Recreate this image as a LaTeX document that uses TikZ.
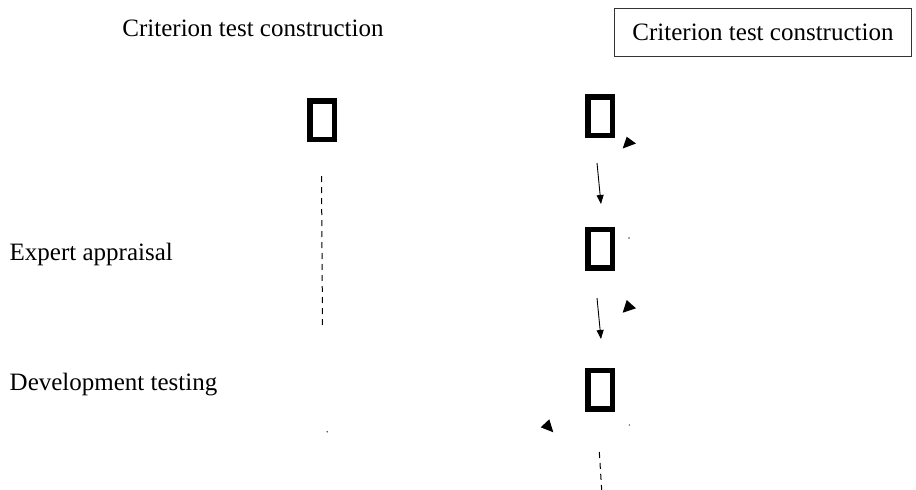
\documentclass[tikz,border=0pt]{standalone}
\usepackage{fontspec}
\setmainfont{Liberation Serif}
\usetikzlibrary{arrows.meta}
\begin{document}
\begin{tikzpicture}[x=1pt, y=-1pt,
  every node/.style={font=\fontsize{25}{30}\selectfont},
  label/.style={anchor=base west, inner sep=0pt},
  stage/.style={draw, line width=5.5pt, minimum width=24.5pt, minimum height=38.5pt, inner sep=0pt},
  flow/.style={line width=0.9pt, -{Triangle[length=9pt, width=7pt]}},
  guide/.style={line width=1pt, dash pattern=on 6pt off 5pt},
  tip/.style={fill=black},
  speck/.style={fill=black!70}]
  % canvas
  \useasboundingbox (0,0) rectangle (916,490);

  % headings
  \node[anchor=base, inner sep=0pt] (head) at (253,36.7) {Criterion test construction};
  \node[draw=black!80, line width=0.9pt, anchor=north west, minimum width=297pt, minimum height=48pt,
        inner sep=0pt] (headbox) at (614,8) {Criterion test construction};

  % side labels
  \node[label] (expert) at (9.5,260) {Expert appraisal};
  \node[label] (devel) at (9.5,390.5) {Development testing};

  % stage boxes
  \node[stage] (s0) at (322,120) {};
  \node[stage] (s1) at (600,116) {};
  \node[stage] (s2) at (600,248.5) {};
  \node[stage] (s3) at (600.3,389.5) {};

  % flow arrows between the stages
  \coordinate (f1a) at (597,163);
  \coordinate (f1b) at (601,204);
  \coordinate (f2a) at (597,298);
  \coordinate (f2b) at (601,339);
  \draw[flow] (f1a) -- (f1b);
  \draw[flow] (f2a) -- (f2b);

  % loose arrow tips
  \fill[tip] (626.7,136.7) -- (636,143.5) -- (622.7,148.5) -- cycle;
  \fill[tip] (626.7,300) -- (636,308.3) -- (622.7,312.7) -- cycle;
  \fill[tip] (540.7,427.3) -- (549.3,419.3) -- (553.3,432.3) -- cycle;

  % dashed guides
  \coordinate (g1a) at (321.5,176);
  \coordinate (g1b) at (322.5,326);
  \coordinate (g2a) at (599.3,452);
  \coordinate (g2b) at (601.7,490);
  \draw[guide] (g1a) -- (g1b);
  \draw[guide] (g2a) -- (g2b);

  % specks
  \fill[speck] (629,238) circle (0.8);
  \fill[speck] (629.3,425) circle (0.8);
  \fill[speck] (327.3,431.7) circle (0.9);
\end{tikzpicture}
\end{document}
